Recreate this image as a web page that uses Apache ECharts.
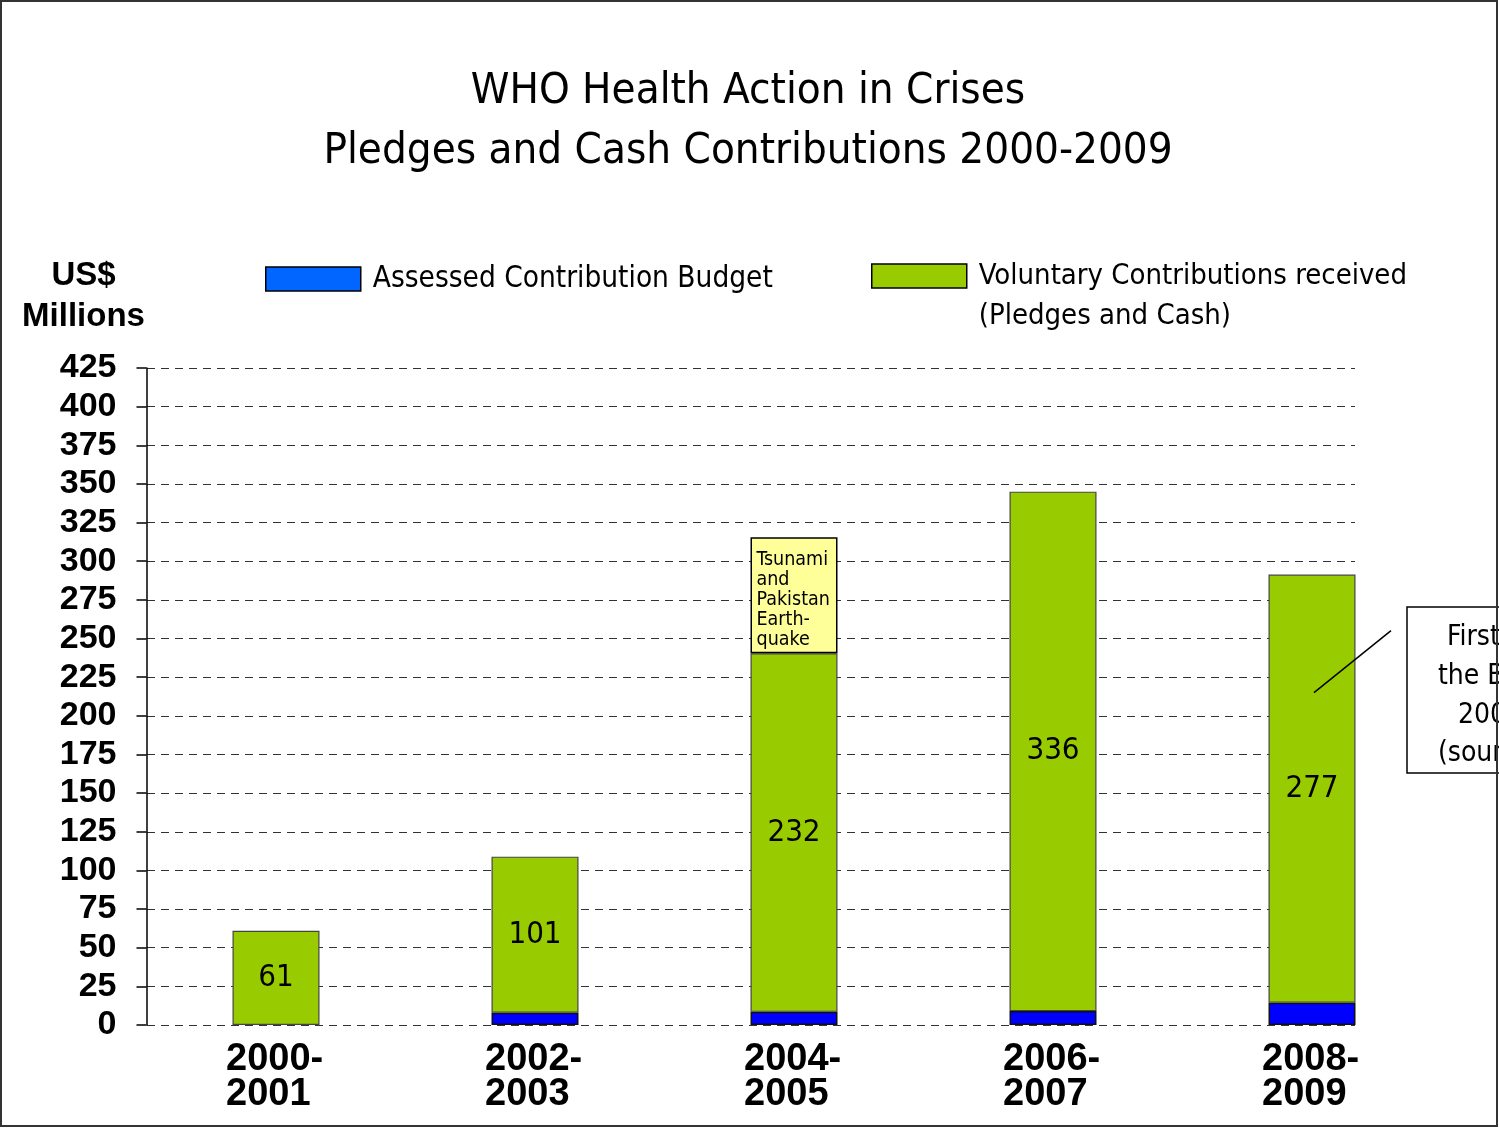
<!DOCTYPE html>
<html>
<head>
<meta charset="utf-8">
<script src="https://cdn.jsdelivr.net/npm/echarts@6/dist/echarts.min.js"></script>
<style>
html,body{margin:0;padding:0;background:#fff;}
#chart{width:1499px;height:1128px;}
</style>
</head>
<body>
<div id="chart"></div>
<script>
const categories = ['2000-2001', '2002-2003', '2004-2005', '2006-2007', '2008-2009'];
const assessed = [null, 7.9, 8.5, 9, 14.4];
const voluntary = [61, 101, 232, 336, 277];
const tsunami = [null, null, 75, null, null];
const yTicks = {min: 0, max: 425, interval: 25};

const NARROW = '"DejaVu Sans Condensed", "Liberation Sans Narrow", "Arial Narrow", sans-serif';
const BOLD = '"Liberation Sans", Arial, sans-serif';

const chart = echarts.init(document.getElementById('chart'), null, {renderer: 'canvas'});

const option = {
  backgroundColor: '#fff',
  animation: false,
  title: {
    text: 'WHO Health Action in Crises\nPledges and Cash Contributions 2000-2009',
    left: 743, top: 57, textAlign: 'center',
    textStyle: {fontFamily: NARROW, fontWeight: 'normal', fontSize: 43.5, lineHeight: 60, color: '#000'}
  },
  legend: [
    {
      data: [{name: 'Assessed Contribution Budget', itemStyle: {color: '#0066FF', borderColor: '#000', borderWidth: 1.5}}],
      left: 265, top: 264, padding: 0, icon: 'rect', itemWidth: 95, itemHeight: 24,
      selectedMode: false,
      textStyle: {fontFamily: NARROW, fontSize: 29.5, lineHeight: 24, color: '#000', padding: [3, 0, 0, 7]}
    },
    {
      data: [{name: 'Voluntary Contributions received (Pledges and Cash)', itemStyle: {color: '#99CC00', borderColor: '#000', borderWidth: 1.5}}],
      left: 871, top: 216, padding: 0, icon: 'rect', itemWidth: 95, itemHeight: 24,
      selectedMode: false,
      formatter: function () { return ' \nVoluntary Contributions received\n(Pledges and Cash)'; },
      textStyle: {fontFamily: NARROW, fontSize: 29, lineHeight: 40, color: '#000', padding: [0, 0, 0, 7]}
    }
  ],
  grid: [
    {left: 146.5, right: 57.5, top: 368, bottom: 103},
    {left: 147, right: 144, top: 368, bottom: 103}
  ],
  xAxis: [
    {
      type: 'category', gridIndex: 0, data: categories,
      axisLine: {show: false}, axisTick: {show: false}, splitLine: {show: false},
      axisLabel: {
        margin: 17, interval: 0,
        formatter: function (v) { return '{a|' + v.replace('-', '-\n') + '}'; },
        rich: {a: {fontFamily: BOLD, fontWeight: 'bold', fontSize: 38, lineHeight: 35, color: '#000', width: 96, align: 'left', padding: [0, 4, 0, 0]}}
      }
    },
    {type: 'value', gridIndex: 1, min: 0, max: 1, show: false}
  ],
  yAxis: [
    {
      type: 'value', gridIndex: 0, min: yTicks.min, max: yTicks.max, interval: yTicks.interval,
      name: 'US$\nMillions', nameLocation: 'end', nameGap: 31,
      nameTextStyle: {fontFamily: BOLD, fontWeight: 'bold', fontSize: 33, lineHeight: 41, color: '#000', align: 'center', padding: [0, 126, 0, 0]},
      axisLine: {show: true, lineStyle: {color: '#000', width: 1.5}},
      axisTick: {show: true, length: 10, lineStyle: {color: '#000', width: 1.5}},
      axisLabel: {margin: 30, fontFamily: BOLD, fontWeight: 'bold', fontSize: 34, color: '#000', padding: [8, 0, 0, 0]},
      splitLine: {show: false}
    },
    {
      type: 'value', gridIndex: 1, min: yTicks.min, max: yTicks.max, interval: yTicks.interval,
      axisLine: {show: false}, axisTick: {show: false}, axisLabel: {show: false},
      splitLine: {show: true, lineStyle: {color: '#333', width: 1, type: [8, 6]}}
    }
  ],
  series: [
    {
      name: 'Assessed Contribution Budget', type: 'bar', stack: 'total', data: assessed,
      barWidth: 87, xAxisIndex: 0, yAxisIndex: 0,
      itemStyle: {color: '#0000FF', borderColor: '#111', borderWidth: 1.5}
    },
    {
      name: 'Voluntary Contributions received (Pledges and Cash)', type: 'bar', stack: 'total', data: voluntary,
      barWidth: 87, xAxisIndex: 0, yAxisIndex: 0,
      itemStyle: {color: '#99CC00', borderColor: '#444', borderWidth: 1.2},
      label: {show: true, position: 'inside', fontFamily: NARROW, fontSize: 31, color: '#000'}
    },
    {
      name: 'Tsunami and Pakistan Earthquake', type: 'bar', stack: 'total', data: tsunami,
      barWidth: 87, xAxisIndex: 0, yAxisIndex: 0,
      itemStyle: {color: '#FFFF99', borderColor: '#000', borderWidth: 1.5},
      label: {
        show: true, position: [6, 13], align: 'left', verticalAlign: 'top',
        formatter: 'Tsunami\nand\nPakistan\nEarth-\nquake',
        fontFamily: NARROW, fontSize: 19.5, lineHeight: 20, color: '#000'
      }
    }
  ]
};
chart.setOption(option);

// Callout annotation pointing into the 2008-2009 bar
const anchor = chart.convertToPixel({xAxisIndex: 0, yAxisIndex: 0}, ['2008-2009', 215]);
const CF = '28px ' + NARROW;
chart.setOption({
  graphic: [
    {type: 'line', z: 100, shape: {x1: anchor[0] + 2, y1: anchor[1], x2: anchor[0] + 79, y2: anchor[1] - 62},
     style: {stroke: '#000', lineWidth: 1.5}},
    {type: 'rect', z: 100, shape: {x: 1407, y: 607, width: 220, height: 166},
     style: {fill: '#fff', stroke: '#000', lineWidth: 1.5}},
    {type: 'text', z: 101, x: 1447, y: 638, style: {text: 'First year of', font: CF, fill: '#000', verticalAlign: 'middle'}},
    {type: 'text', z: 101, x: 1438, y: 677, style: {text: 'the Biennium', font: CF, fill: '#000', verticalAlign: 'middle'}},
    {type: 'text', z: 101, x: 1458, y: 716, style: {text: '2008-2009', font: CF, fill: '#000', verticalAlign: 'middle'}},
    {type: 'text', z: 101, x: 1438, y: 754, style: {text: '(source: WHO)', font: CF, fill: '#000', verticalAlign: 'middle'}},
    {type: 'rect', z: 200, shape: {x: 1, y: 1, width: 1496, height: 1125},
     style: {fill: 'none', stroke: '#333', lineWidth: 2}}
  ]
});
</script>
</body>
</html>
